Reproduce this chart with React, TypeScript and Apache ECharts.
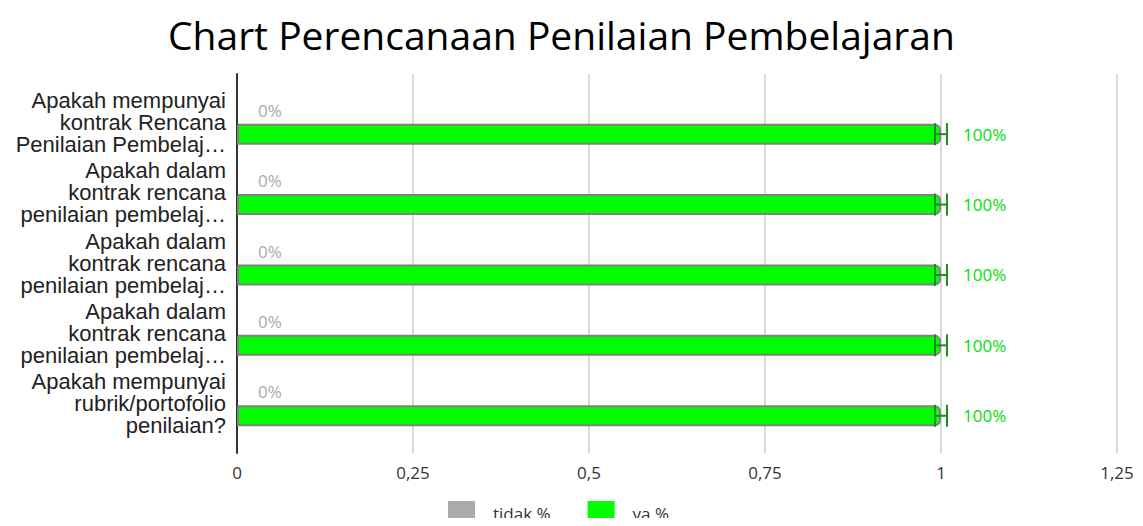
import React, { useEffect, useRef } from "react";
import * as echarts from "echarts";

const title = "Chart Perencanaan Penilaian Pembelajaran";
const categories = [
  "Apakah mempunyai\nkontrak Rencana\nPenilaian Pembelaj…",
  "Apakah dalam\nkontrak rencana\npenilaian pembelaj…",
  "Apakah dalam\nkontrak rencana\npenilaian pembelaj…",
  "Apakah dalam\nkontrak rencana\npenilaian pembelaj…",
  "Apakah mempunyai\nrubrik/portofolio\npenilaian?",
];
const tidak = [0, 0, 0, 0, 0];
const ya = [1, 1, 1, 1, 1];
const yaError = [0.0085, 0.0085, 0.0085, 0.0085, 0.0085];
const seriesNames = ["tidak %", "ya %"];
const xMin = 0;
const xMax = 1.25;
const xInterval = 0.25;

const pct = (v: number) => Math.round(v * 100) + "%";

export default function App() {
  const ref = useRef<HTMLDivElement>(null);
  useEffect(() => {
    if (!ref.current) return;
    const chart = echarts.init(ref.current, null, { renderer: "svg" });
    chart.setOption({
      animation: false,
      title: {
        text: title,
        left: 163,
        top: 10,
        textStyle: { fontFamily: "Open Sans", fontSize: 39, fontWeight: "normal", color: "#000" },
      },
      legend: {
        data: seriesNames,
        top: 501,
        left: 448,
        padding: 0,
        itemWidth: 27,
        itemHeight: 24,
        itemGap: 37,
        icon: "rect",
        itemStyle: { borderRadius: 2, borderWidth: 0 },
        textStyle: { fontFamily: "Open Sans", fontSize: 17, color: "#333", padding: [0, 0, 0, 13] },
      },
      grid: [
        { left: 237, right: 26, top: 74, bottom: 73 },
        { left: 237, right: 26, top: 87, bottom: 87 },
      ],
      xAxis: [
        {
          gridIndex: 0,
          type: "value",
          min: xMin,
          max: xMax,
          interval: xInterval,
          axisLine: { show: false },
          axisTick: { show: false },
          splitLine: { lineStyle: { color: "#cccccc", width: 1.5 } },
          axisLabel: {
            margin: 11,
            fontFamily: "Open Sans",
            fontSize: 17,
            color: "#333",
            formatter: (v: number) => String(v).replace(".", ","),
          },
        },
        {
          gridIndex: 1,
          type: "value",
          min: xMin,
          max: xMax,
          interval: xInterval,
          show: false,
        },
      ],
      yAxis: [
        {
          gridIndex: 0,
          type: "value",
          axisLine: { show: true, lineStyle: { color: "#333", width: 2 } },
          axisTick: { show: false },
          axisLabel: { show: false },
          splitLine: { show: false },
        },
        {
          gridIndex: 1,
          type: "category",
          inverse: true,
          data: categories,
          axisLine: { show: false },
          axisTick: { show: false },
          axisLabel: {
            margin: 11,
            fontFamily: "Liberation Sans",
            fontSize: 22,
            lineHeight: 22,
            color: "#222",
            align: "right",
          },
        },
      ],
      series: [
        {
          name: seriesNames[0],
          type: "bar",
          xAxisIndex: 1,
          yAxisIndex: 1,
          data: tidak,
          barWidth: 21,
          barGap: "14%",
          itemStyle: { color: "#aaaaaa" },
          label: {
            show: true,
            position: "right",
            distance: 21,
            formatter: (p: any) => pct(p.value),
            fontFamily: "Open Sans",
            fontSize: 17,
            color: "#aaaaaa",
          },
        },
        {
          name: seriesNames[1],
          type: "bar",
          xAxisIndex: 1,
          yAxisIndex: 1,
          data: ya,
          barWidth: 21,
          itemStyle: {
            color: "#00ff00",
            borderColor: "#808080",
            borderWidth: 2,
            borderRadius: [0, 5, 5, 0],
          },
          label: {
            show: true,
            position: "right",
            distance: 22,
            formatter: (p: any) => pct(p.value),
            fontFamily: "Open Sans",
            fontSize: 17,
            color: "#00e000",
          },
        },
        {
          name: "error",
          type: "custom",
          xAxisIndex: 1,
          yAxisIndex: 1,
          data: ya.map((v, i) => [v, i, yaError[i]]),
          z: 5,
          renderItem: (params: any, api: any) => {
            const v = api.value(0);
            const idx = api.value(1);
            const e = api.value(2);
            const center = api.coord([v, idx]);
            const band = api.size([0, 1])[1];
            const y = center[1] + band * 0.17;
            const x1 = api.coord([v - e, idx])[0];
            const x2 = api.coord([v + e, idx])[0];
            const h = 11;
            const style = { stroke: "#1e8c1e", lineWidth: 2 };
            return {
              type: "group",
              children: [
                { type: "line", shape: { x1, y1: y, x2, y2: y }, style },
                { type: "line", shape: { x1, y1: y - h, x2: x1, y2: y + h }, style },
                { type: "line", shape: { x1: x2, y1: y - h, x2, y2: y + h }, style },
              ],
            };
          },
        },
      ],
    });
    return () => chart.dispose();
  }, []);
  return <div ref={ref} style={{ width: 1143, height: 526, margin: -8 }} />;
}
